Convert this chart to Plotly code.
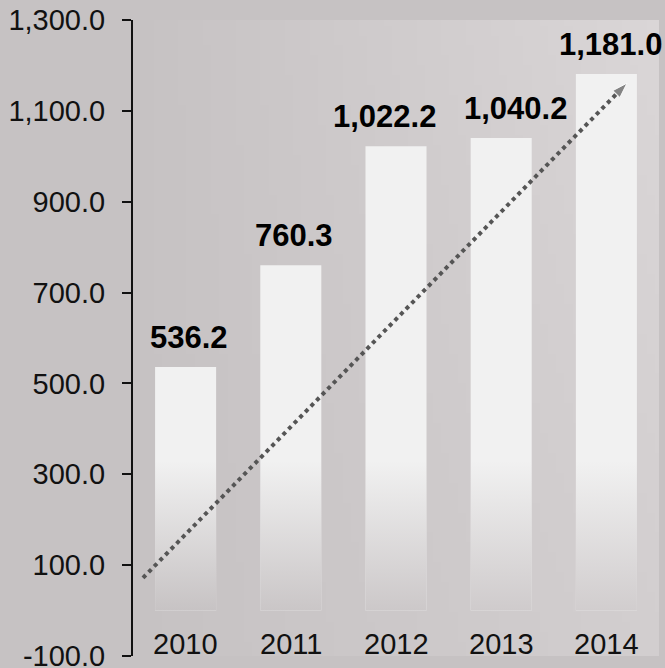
import base64
import struct
import zlib

import plotly.graph_objects as go

# ---- data ----
years = ["2010", "2011", "2012", "2013", "2014"]
values = [536.2, 760.3, 1022.2, 1040.2, 1181.0]
value_labels = ["536.2", "760.3", "1,022.2", "1,040.2", "1,181.0"]
trend_x = [-0.405, 4.196]     # trend arrow start/end (category units)
trend_y = [72, 1161]          # trend arrow start/end (value units)
y_ticks = [-100, 100, 300, 500, 700, 900, 1100, 1300]
y_tick_labels = ["-100.0", "100.0", "300.0", "500.0", "700.0", "900.0", "1,100.0", "1,300.0"]

# ---- styling ----
PAGE_BG = "#c6c2c3"
BG_BASE = (198, 194, 195)
BAR_COLOR = "#f1f1f1"
BAR_WIDTH = 0.58
FADE_TOP = 330
FONT = "Liberation Sans, Arial, sans-serif"
LABEL_XSHIFT = [3, 3, -12, 14, 4]

idx = list(range(len(years)))
x_lo, x_hi = -0.5, len(years) - 0.5
y_lo, y_hi = -100, 1300


def bg_rgb(tx, ty):
    d = 12 * tx + 8 * tx * ty
    return tuple(min(255, round(c + d)) for c in BG_BASE)


def png_bg(w=64, h=64):
    raw = bytearray()
    for j in range(h):
        ty = 1 - j / (h - 1)
        raw.append(0)
        for i in range(w):
            raw.extend(bg_rgb(i / (w - 1), ty))

    def chunk(tag, data):
        return (struct.pack(">I", len(data)) + tag + data
                + struct.pack(">I", zlib.crc32(tag + data) & 0xFFFFFFFF))

    png = (b"\x89PNG\r\n\x1a\n"
           + chunk(b"IHDR", struct.pack(">IIBBBBB", w, h, 8, 2, 0, 0, 0))
           + chunk(b"IDAT", zlib.compress(bytes(raw)))
           + chunk(b"IEND", b""))
    return "data:image/png;base64," + base64.b64encode(png).decode()


fig = go.Figure()

# bars
fig.add_trace(go.Bar(
    x=idx, y=values, width=BAR_WIDTH, marker=dict(color=BAR_COLOR, line=dict(width=0)),
    showlegend=False, hoverinfo="skip"))

# bottom fade of each bar into the background
ty0 = (0 - y_lo) / (y_hi - y_lo)
for i in idx:
    c = bg_rgb((i - x_lo) / (x_hi - x_lo), ty0)
    x0, x1 = i - BAR_WIDTH / 2, i + BAR_WIDTH / 2
    fig.add_trace(go.Scatter(
        x=[x0, x1, x1, x0, x0], y=[0, 0, FADE_TOP, FADE_TOP, 0],
        mode="lines", line=dict(width=0), fill="toself",
        fillgradient=dict(type="vertical", start=0, stop=FADE_TOP,
                          colorscale=[[0, "rgba(%d,%d,%d,1)" % c],
                                      [1, "rgba(%d,%d,%d,0)" % c]]),
        hoverinfo="skip", showlegend=False))

# trend arrow
fig.add_trace(go.Scatter(
    x=trend_x, y=trend_y, mode="lines+markers",
    line=dict(color="#555555", width=4, dash="4px,4px"),
    marker=dict(symbol="arrow", size=[0, 16], color="#555555", angleref="previous"),
    hoverinfo="skip", showlegend=False, cliponaxis=False))

# value labels
for i, v, lab, dx in zip(idx, values, value_labels, LABEL_XSHIFT):
    fig.add_annotation(x=i, y=v, text="<b>%s</b>" % lab, showarrow=False,
                       yanchor="bottom", yshift=10, xshift=dx,
                       font=dict(family=FONT, size=31, color="#000000"))

# category labels (drawn inside the plot, above the bottom of the axis)
for i, yr in zip(idx, years):
    fig.add_annotation(x=i, y=y_lo, text=yr, showarrow=False,
                       yanchor="bottom", yshift=-6,
                       font=dict(family=FONT, size=29, color="#111111"))

fig.add_layout_image(dict(source=png_bg(), xref="paper", yref="paper",
                          x=0, y=1, sizex=1, sizey=1, sizing="stretch",
                          xanchor="left", yanchor="top", layer="below"))

fig.update_layout(
    width=665, height=668,
    margin=dict(l=133, r=6, t=20, b=12),
    paper_bgcolor=PAGE_BG, plot_bgcolor=PAGE_BG,
    font=dict(family=FONT, size=29, color="#111111"),
    xaxis=dict(range=[x_lo, x_hi], tickvals=idx, ticktext=years,
               showticklabels=False, ticks="",
               showline=False, showgrid=False, zeroline=False, fixedrange=True),
    yaxis=dict(range=[y_lo, y_hi], tickvals=y_ticks, ticktext=y_tick_labels,
               ticks="outside", ticklen=9, tickwidth=2, tickcolor="#111111",
               showline=True, linewidth=2, linecolor="#111111",
               showgrid=False, zeroline=False, ticklabelstandoff=11,
               ticklabeloverflow="allow", automargin=False,
               fixedrange=True, tickfont=dict(size=29, color="#111111")),
    bargap=0.42,
)

fig.write_html("out.html", config={"displayModeBar": False},
               post_script="document.body.style.margin='0';")
